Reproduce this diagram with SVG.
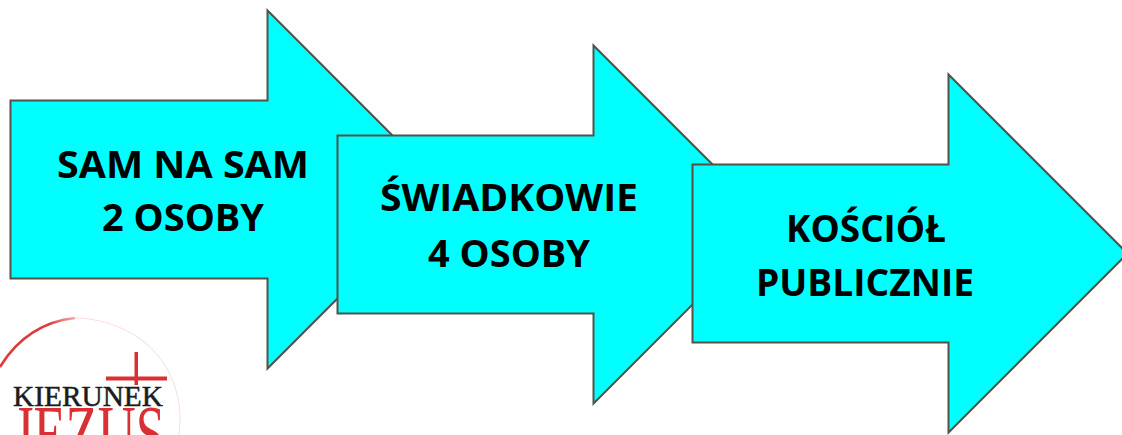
<svg xmlns="http://www.w3.org/2000/svg" width="1122" height="435" viewBox="0 0 1122 435">
<defs><style>
.a{fill:#00ffff;stroke:#555048;stroke-width:2}
.t{font-family:"Open Sans","Liberation Sans",sans-serif;font-weight:700;fill:#000;text-anchor:middle}
.k{font-family:"Liberation Serif",serif;text-anchor:middle}
</style>
<linearGradient id="g" gradientUnits="userSpaceOnUse" x1="0" y1="367" x2="78" y2="318"><stop offset="0" stop-color="#e03a3e"/><stop offset="0.7" stop-color="#e03a3e"/><stop offset="1" stop-color="#f6b8b8"/></linearGradient>
</defs>
<rect width="1122" height="435" fill="#fff"/>
<g id="logo">
<path d="M0 367C18 337 45 321 75 318" fill="none" stroke="url(#g)" stroke-width="2.5"/>
<path d="M75 318C100 318 130 328 150 347C170 366 180 392 180 420L179 435" fill="none" stroke="#fbdcdc" stroke-width="1"/>
<rect x="134.500" y="352" width="3.500" height="33" fill="#d93036"/>
<rect x="106" y="376.500" width="61" height="4" fill="#d93036"/>
<text class="k" x="88" y="406" font-size="30" fill="#1c1c1c" stroke="#1c1c1c" stroke-width="0.5" textLength="150" lengthAdjust="spacingAndGlyphs">KIERUNEK</text>
<text class="k" x="89" y="461" font-size="80" fill="#d93036" textLength="152" lengthAdjust="spacingAndGlyphs">JEZUS</text>
</g>
<g id="arrow1">
<path class="a" d="M10.500 100.500H267.500V10.500L446.500 189.500L267.500 368.500V278.500H10.500Z"/>
<text class="t" x="183" y="178" font-size="38" textLength="252" lengthAdjust="spacingAndGlyphs">SAM NA SAM</text>
<text class="t" x="183" y="231" font-size="38" textLength="162" lengthAdjust="spacingAndGlyphs">2 OSOBY</text>
</g>
<g id="arrow2">
<path class="a" d="M337.500 135.500H593.500V45.500L772.500 224.500L593.500 403.500V313.500H337.500Z"/>
<text class="t" x="509" y="211" font-size="38" textLength="258" lengthAdjust="spacingAndGlyphs">ŚWIADKOWIE</text>
<text class="t" x="509" y="267" font-size="38" textLength="162" lengthAdjust="spacingAndGlyphs">4 OSOBY</text>
</g>
<g id="arrow3">
<path class="a" d="M692.500 164.500H948.500V74.500L1127.500 253.500L948.500 432.500V342.500H692.500Z"/>
<text class="t" x="866" y="242" font-size="37" textLength="160" lengthAdjust="spacingAndGlyphs">KOŚCIÓŁ</text>
<text class="t" x="865" y="296" font-size="37" textLength="218" lengthAdjust="spacingAndGlyphs">PUBLICZNIE</text>
</g>
<g id="connectors"/>
</svg>
